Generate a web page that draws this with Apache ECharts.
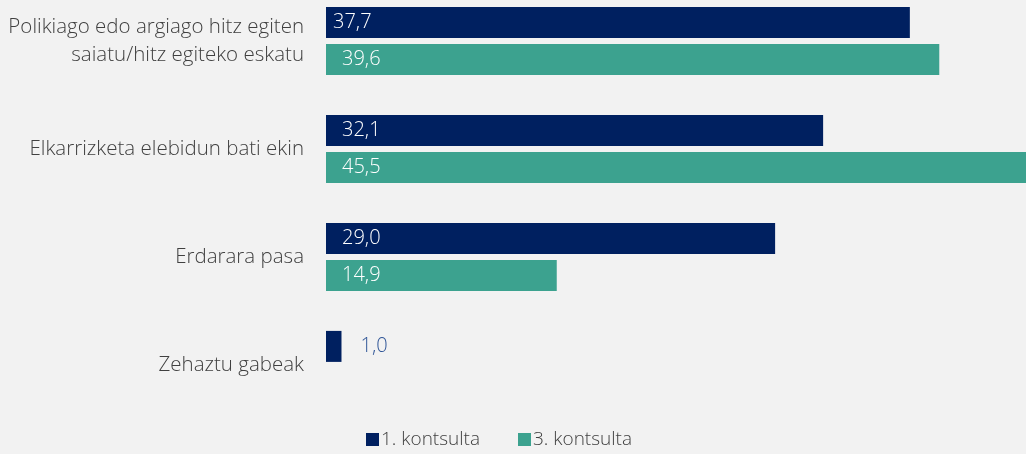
<!DOCTYPE html>
<html lang="eu">
<head>
    <meta charset="UTF-8">
    <title>Kontsultak</title>
    <style>
        html, body { margin: 0; padding: 0; background: #f2f2f2; overflow: hidden; }
        /* diagrama 13px gora mugitu: lehen kategoria goiko ertzean hasten da */
        #chart { width: 1026px; height: 467px; position: absolute; left: 0; top: -13px; }
    </style>
</head>
<body>
    <div id="chart"></div>
    <script src="https://cdn.jsdelivr.net/npm/echarts@6/dist/echarts.min.js"></script>
    <script>
        // kategoriak (goitik behera)
        var categories = ['Polikiago edo argiago hitz egiten\nsaiatu/hitz egiteko eskatu', 'Elkarrizketa elebidun bati ekin', 'Erdarara pasa', 'Zehaztu gabeak'];
        var seriesNames = ['1. kontsulta', '3. kontsulta'];
        var kontsulta1 = [37.7, 32.1, 29.0, 1.0];
        var kontsulta3 = [39.6, 45.5, 14.9, null];

        var colors = ['#002060', '#3ca28f'];
        var font = '"Open Sans", "Noto Sans", sans-serif';

        var fmt = function (p) {
            return p.value.toFixed(1).replace('.', ',');
        };

        // balioak barraren barruan, txikiak kanpoan
        var makeData = function (vals, first) {
            return vals.map(function (v, i) {
                if (v === null) return null;
                var item = { value: v };
                if (v < 5) {
                    item.label = { position: 'right', distance: 19, color: '#2f5597' };
                } else if (first && i === 0) {
                    item.label = { distance: 7 };
                }
                return item;
            });
        };

        var myChart = echarts.init(document.getElementById('chart'));
        var option = {
            backgroundColor: '#f2f2f2',
            animation: false,
            grid: { left: 326, right: 0, top: 0, height: 432 },
            legend: {
                top: 438,
                left: 361,
                itemWidth: 13,
                itemHeight: 13,
                itemGap: 38,
                icon: 'rect',
                textStyle: { fontFamily: font, fontSize: 19, fontWeight: 300, color: '#404040', padding: [0, 0, 0, -3] },
                data: seriesNames
            },
            xAxis: {
                type: 'value',
                min: 0,
                max: 45.2,
                show: false
            },
            yAxis: {
                type: 'category',
                inverse: true,
                data: categories,
                axisLine: { show: false },
                axisTick: { show: false },
                axisLabel: {
                    margin: 22,
                    fontFamily: font,
                    fontSize: 20.5,
                    fontWeight: 300,
                    lineHeight: 28,
                    color: '#404040',
                    align: 'right'
                }
            },
            series: [{
                name: seriesNames[0],
                type: 'bar',
                barWidth: 31,
                barGap: '20%',
                itemStyle: { color: colors[0] },
                label: {
                    show: true,
                    position: 'insideLeft',
                    distance: 16,
                    color: '#ffffff',
                    fontFamily: font,
                    fontSize: 20,
                    fontWeight: 300,
                    formatter: fmt
                },
                data: makeData(kontsulta1, true)
            }, {
                name: seriesNames[1],
                type: 'bar',
                barWidth: 31,
                itemStyle: { color: colors[1] },
                label: {
                    show: true,
                    position: 'insideLeft',
                    distance: 16,
                    color: '#ffffff',
                    fontFamily: font,
                    fontSize: 20,
                    fontWeight: 300,
                    formatter: fmt
                },
                data: makeData(kontsulta3, false)
            }]
        };
        myChart.setOption(option);
    </script>
</body>
</html>
